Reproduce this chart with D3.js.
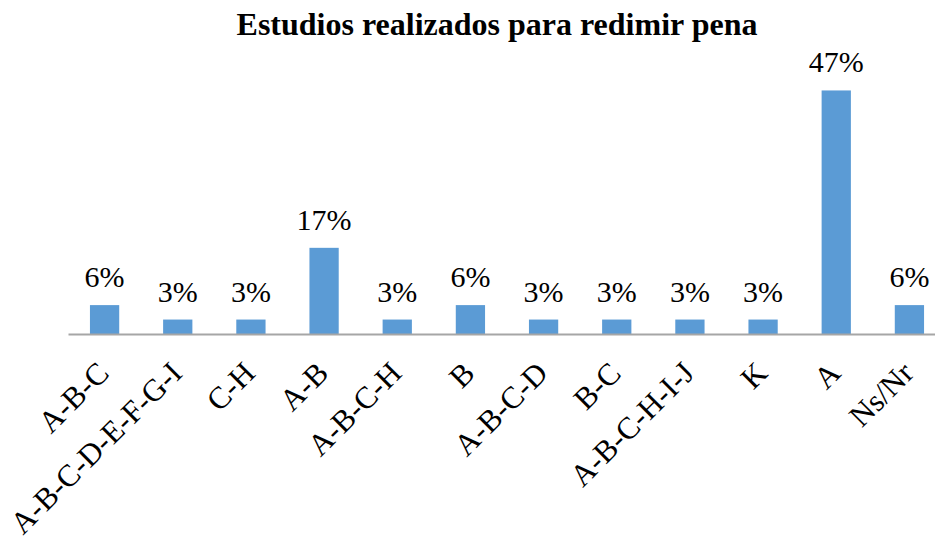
<!DOCTYPE html>
<html>
<head>
<meta charset="utf-8">
<script src="https://cdn.jsdelivr.net/npm/d3@7"></script>
<style>
  html, body { margin: 0; padding: 0; background: #fff; }
  svg { display: block; }
</style>
</head>
<body>
<div id="chart"></div>
<script>
// categories and their share (in %) of respondents
const categories = ['A-B-C', 'A-B-C-D-E-F-G-I', 'C-H', 'A-B', 'A-B-C-H', 'B',
  'A-B-C-D', 'B-C', 'A-B-C-H-I-J', 'K', 'A', 'Ns/Nr'];
const values = [5.6, 2.8, 2.8, 16.7, 2.8, 5.6, 2.8, 2.8, 2.8, 2.8, 47.2, 5.6];
const title = 'Estudios realizados para redimir pena';

const W = 935, H = 539;
const plot = { left: 68, right: 946, top: 76, bottom: 334 };
const FONT = '"Liberation Serif", "Times New Roman", Times, serif';

const svg = d3.select('#chart').append('svg')
  .attr('width', W).attr('height', H)
  .attr('viewBox', `0 0 ${W} ${H}`)
  .attr('font-family', FONT);

const x = d3.scaleBand().domain(categories)
  .range([plot.left, plot.right])
  .paddingInner(0.6).paddingOuter(0.3);
const y = d3.scaleLinear().domain([0, 50]).range([plot.bottom, plot.top]);

// title
svg.append('text')
  .attr('x', 497).attr('y', 35)
  .attr('text-anchor', 'middle')
  .style('font-family', FONT).style('font-weight', 'bold').style('font-size', '32px')
  .text(title);

// bars
svg.append('g').selectAll('rect').data(values).join('rect')
  .attr('x', (d, i) => x(categories[i]))
  .attr('y', d => y(d))
  .attr('width', x.bandwidth())
  .attr('height', d => y(0) - y(d))
  .attr('fill', '#5b9bd5');

// value labels
svg.append('g').selectAll('text').data(values).join('text')
  .attr('x', (d, i) => x(categories[i]) + x.bandwidth() / 2)
  .attr('y', d => y(d) - 18)
  .attr('text-anchor', 'middle')
  .style('font-family', FONT).style('font-size', '30px').attr('fill', '#000')
  .text(d => Math.round(d) + '%');

// category axis
const axis = svg.append('g')
  .attr('transform', `translate(0,${plot.bottom})`)
  .call(d3.axisBottom(x).tickSize(0).tickPadding(0));
axis.attr('font-family', FONT);
axis.select('.domain').attr('stroke', '#a6a6a6').attr('stroke-width', 2);
axis.selectAll('text')
  .style('font-family', FONT).style('font-size', '31px').attr('fill', '#000')
  .attr('text-anchor', 'end')
  .attr('dy', 0)
  .attr('transform', 'translate(6,41) rotate(-45)');
</script>
</body>
</html>
